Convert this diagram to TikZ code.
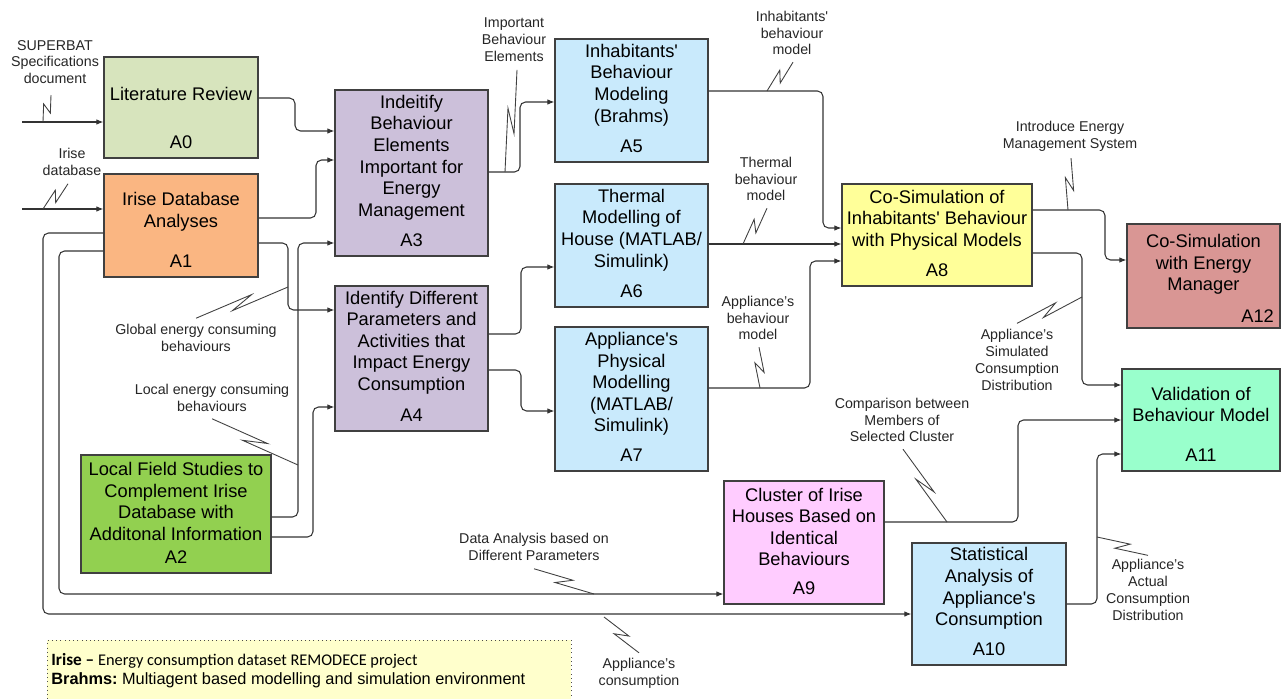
\documentclass[tikz,border=0pt]{standalone}
\usepackage{fontspec}
\setmainfont{Liberation Sans}
\newfontfamily\calibrifont{Carlito}
\usetikzlibrary{arrows.meta, calc, positioning}
\definecolor{reviewgreen}{HTML}{D7E4BD}
\definecolor{iriseorange}{HTML}{FAB682}
\definecolor{fieldgreen}{HTML}{92D050}
\definecolor{lilac}{HTML}{CCC0DA}
\definecolor{skyblue}{HTML}{C9EAFC}
\definecolor{lemon}{HTML}{FFFF99}
\definecolor{pinkish}{HTML}{FFCCFF}
\definecolor{mint}{HTML}{99FFCC}
\definecolor{rosered}{HTML}{D99694}
\definecolor{notecream}{HTML}{FFFFCC}
\definecolor{edgegray}{HTML}{404040}
\tikzset{> = { Latex[length = 1.4mm, width = 1.1mm] }}

\begin{document}
\begin{tikzpicture}[x = 0.02cm, y = -0.02cm, process/.style = { draw = edgegray, line width = 0.7pt, inner sep = 0pt }, boxtext/.style = { align = center, font = \fontsize{10.4}{12.3}\selectfont }, boxid/.style = { font = \fontsize{10.4}{12.3}\selectfont }, caption/.style = { align = center, inner sep = 1pt, text = black!85, font = \fontsize{8.1}{9.6}\selectfont }, flow/.style = { ->, draw = black!80, line width = 0.6pt, rounded corners = 1.1mm }, squiggle/.style = { draw = black!75, line width = 0.5pt, to path = { -- ($(\tikztostart)!0.62!(\tikztotarget)!0.09cm!90:(\tikztotarget)$) -- ($(\tikztostart)!0.38!(\tikztotarget)!0.09cm!-90:(\tikztotarget)$) -- (\tikztotarget) } }]
	\fill[white] (0,0) rectangle (1281,699);
	\useasboundingbox (0,0) rectangle (1281,699);

	% activity boxes
	\node [process, fill = reviewgreen, minimum width = 3.08cm, minimum height = 2.02cm] (a0) at (181,107.5) {};
	\node [boxtext] (a0t) at ([yshift = 0.28cm]a0.center) {Literature Review};
	\node [boxid] (a0id) at ([yshift = 0.32cm]a0.south) {A0};

	\node [process, fill = iriseorange, minimum width = 3.08cm, minimum height = 2.06cm] (a1) at (181,225.5) {};
	\node [boxtext] (a1t) at ([yshift = 0.28cm]a1.center) {Irise Database\\Analyses};
	\node [boxid] (a1id) at ([yshift = 0.32cm]a1.south) {A1};

	\node [process, fill = fieldgreen, minimum width = 3.80cm, minimum height = 2.36cm] (a2) at (176,514) {};
	\node [boxtext] (a2t) at ([yshift = 0.25cm]a2.center) {Local Field Studies to\\Complement Irise\\Database with\\Additonal Information};
	\node [boxid] (a2id) at ([yshift = 0.32cm]a2.south) {A2};

	\node [process, fill = lilac, minimum width = 3.06cm, minimum height = 3.32cm] (a3) at (411.5,173) {};
	\node [boxtext] (a3t) at ([yshift = 0.31cm]a3.center) {Indeitify\\Behaviour\\Elements\\Important for\\Energy\\Management};
	\node [boxid] (a3id) at ([yshift = 0.32cm]a3.south) {A3};

	\node [process, fill = lilac, minimum width = 3.06cm, minimum height = 2.90cm] (a4) at (411.5,358.5) {};
	\node [boxtext] (a4t) at ([yshift = 0.32cm]a4.center) {Identify Different\\Parameters and\\Activities that\\Impact Energy\\Consumption};
	\node [boxid] (a4id) at ([yshift = 0.32cm]a4.south) {A4};

	\node [process, fill = skyblue, minimum width = 3.06cm, minimum height = 2.46cm] (a5) at (631.5,100.5) {};
	\node [boxtext] (a5t) at ([yshift = 0.31cm]a5.center) {Inhabitants\textquotesingle\\Behaviour\\Modeling\\(Brahms)};
	\node [boxid] (a5id) at ([yshift = 0.32cm]a5.south) {A5};

	\node [process, fill = skyblue, minimum width = 3.06cm, minimum height = 2.46cm] (a6) at (631.5,245.5) {};
	\node [boxtext] (a6t) at ([yshift = 0.31cm]a6.center) {Thermal\\Modelling of\\House (MATLAB/\\Simulink)};
	\node [boxid] (a6id) at ([yshift = 0.32cm]a6.south) {A6};

	\node [process, fill = skyblue, minimum width = 3.06cm, minimum height = 2.88cm] (a7) at (631.5,399) {};
	\node [boxtext] (a7t) at ([yshift = 0.30cm]a7.center) {Appliance\textquotesingle s\\Physical\\Modelling\\(MATLAB/\\Simulink)};
	\node [boxid] (a7id) at ([yshift = 0.32cm]a7.south) {A7};

	\node [process, fill = lemon, minimum width = 3.80cm, minimum height = 2.04cm] (a8) at (937,235) {};
	\node [boxtext] (a8t) at ([yshift = 0.30cm]a8.center) {Co-Simulation of\\Inhabitants\textquotesingle\ Behaviour\\with Physical Models};
	\node [boxid] (a8id) at ([yshift = 0.32cm]a8.south) {A8};

	\node [process, fill = pinkish, minimum width = 3.20cm, minimum height = 2.46cm] (a9) at (804,542.5) {};
	\node [boxtext] (a9t) at ([yshift = 0.31cm]a9.center) {Cluster of Irise\\Houses Based on\\Identical\\Behaviours};
	\node [boxid] (a9id) at ([yshift = 0.32cm]a9.south) {A9};

	\node [process, fill = skyblue, minimum width = 3.08cm, minimum height = 2.44cm] (a10) at (989,604) {};
	\node [boxtext] (a10t) at ([yshift = 0.31cm]a10.center) {Statistical\\Analysis of\\Appliance\textquotesingle s\\Consumption};
	\node [boxid] (a10id) at ([yshift = 0.32cm]a10.south) {A10};

	\node [process, fill = mint, minimum width = 3.16cm, minimum height = 2.04cm] (a11) at (1201,420) {};
	\node [boxtext] (a11t) at ([yshift = 0.31cm]a11.center) {Validation of\\Behaviour Model};
	\node [boxid] (a11id) at ([yshift = 0.32cm]a11.south) {A11};

	\node [process, fill = rosered, minimum width = 3.06cm, minimum height = 2.08cm] (a12) at (1203.5,276) {};
	\node [boxtext] (a12t) at ([yshift = 0.23cm]a12.center) {Co-Simulation\\with Energy\\Manager};
	\node [boxid] (a12id) at ([xshift = -0.46cm, yshift = 0.24cm]a12.south east) {A12};

	% arrow labels
	\node [caption] (lsuper) at (55,62) {SUPERBAT\\Specifications\\document};
	\node [caption] (lirise) at (72,162) {Irise\\database};
	\node [caption] (limportant) at (514,40) {Important\\Behaviour\\Elements};
	\node [caption] (linhab) at (792,33) {Inhabitants\textquotesingle\\behaviour\\model};
	\node [caption] (lthermal) at (766,179) {Thermal\\behaviour\\model};
	\node [caption] (lapplbeh) at (758,318) {Appliance's\\behaviour\\model};
	\node [caption] (lintro) at (1070,136) {Introduce Energy\\Management System};
	\node [caption] (lsimul) at (1017,360) {Appliance's\\Simulated\\Consumption\\Distribution};
	\node [caption] (lcompare) at (902,420) {Comparison between\\Members of\\Selected Cluster};
	\node [caption] (lactual) at (1148,590) {Appliance's\\Actual\\Consumption\\Distribution};
	\node [caption] (lglobal) at (196,338) {Global energy consuming\\behaviours};
	\node [caption] (llocal) at (212,398) {Local energy consuming\\behaviours};
	\node [caption] (ldata) at (534,547) {Data Analysis based on\\Different Parameters};
	\node [caption] (lconsum) at (639,673) {Appliance's\\consumption};

	% inputs
	\coordinate (superin) at (22,122);
	\coordinate (irisein) at (22,209);
	\draw [flow] (superin) -- (a0.west |- superin);
	\draw [flow] (irisein) -- (a1.west |- irisein);

	% flows between activities
	\draw [flow] (a0.east |- 0,98) -| (295,131) -- (a3.west |- 0,131);
	\draw [flow] (a1.east |- 0,218) -| (316,160) -- (a3.west |- 0,160);
	\draw [flow] (a1.east |- 0,243) -| (288,310) -- (a4.west |- 0,310);
	\draw [flow] (a2.east |- 0,517) -| (298,243) -- (a3.west |- 0,243);
	\draw [flow] (a2.east |- 0,537) -| (313,407) -- (a4.west |- 0,407);
	\draw [flow] (a3.east |- 0,172) -| (520,102) -- (a5.west |- 0,102);
	\draw [flow] (a4.east |- 0,334) -| (521,267) -- (a6.west |- 0,267);
	\draw [flow] (a4.east |- 0,370) -| (521,411) -- (a7.west |- 0,411);
	\draw [flow] (a5.east |- 0,91) -| (823,228) -- (a8.west |- 0,228);
	\draw [flow] (a6.east |- 0,244) -- (a8.west |- 0,244);
	\draw [flow] (a7.east |- 0,388) -| (810,261) -- (a8.west |- 0,261);
	\draw [flow] (a8.east |- 0,210) -| (1105,260) -- (a12.west |- 0,260);
	\draw [flow] (a8.east |- 0,253) -| (1082,385) -- (a11.west |- 0,385);
	\draw [flow] (a9.east |- 0,522) -| (1018,420) -- (a11.west |- 0,420);
	\draw [flow] (a10.east |- 0,604) -| (1097,454) -- (a11.west |- 0,454);
	\draw [flow] (a1.west |- 0,251) -| (59,594) -- (a9.west |- 0,594);
	\draw [flow] (a1.west |- 0,233) -| (43,614) -- (a10.west |- 0,614);

	% label squiggles
	\draw [squiggle] ([shift = {(-4,9)}]lsuper.south) to (43,122);
	\draw [squiggle] ([shift = {(-4,6)}]lirise.south) to (43,209);
	\draw [squiggle] ([shift = {(3,6)}]limportant.south) to (505,172);
	\draw [squiggle] ([shift = {(1,5)}]linhab.south) to (767,91);
	\draw [squiggle] ([shift = {(1,5)}]lthermal.south) to (743,244);
	\draw [squiggle] ([shift = {(1,5)}]lapplbeh.south) to (760,388);
	\draw [squiggle] ([shift = {(1,5)}]lintro.south) to (1068,210);
	\draw [squiggle] ([shift = {(0,-4)}]lsimul.north) to (1082,297);
	\draw [squiggle] ([shift = {(1,5)}]lcompare.south) to (947,522);
	\draw [squiggle] ([shift = {(0,-2)}]lactual.north) to (1097,537);
	\draw [squiggle] ([shift = {(0,-4)}]lglobal.north) to (288,287);
	\draw [squiggle] ([shift = {(0,5)}]llocal.south) to (298,465);
	\draw [squiggle] ([shift = {(0,6)}]ldata.south) to (594,594);
	\draw [squiggle] ([shift = {(0,-3)}]lconsum.north) to (604,617);

	% legend
	\node [draw = black!70, dotted, fill = notecream, minimum width = 10.48cm, minimum height = 1.5cm, anchor = north west] (legend) at (47,640) {};
	\node [anchor = west, align = left, inner sep = 0pt, font = \fontsize{9.3}{10.8}\selectfont] (legendtext) at (51,670.5) {{\calibrifont\fontsize{9.8}{10.8}\selectfont\textbf{Irise –} \fontsize{9.3}{10.8}\selectfont Energy consumption dataset REMODECE project}\\\textbf{Brahms:}\hspace{-0.1em} Multiagent based modelling and simulation environment};
\end{tikzpicture}
\end{document}
